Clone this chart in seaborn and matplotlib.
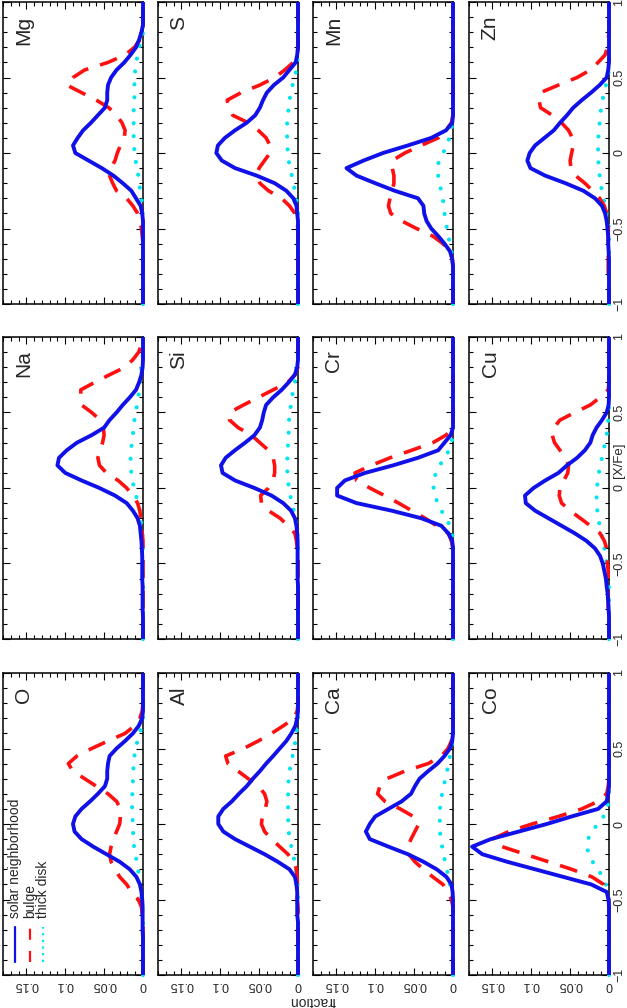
import numpy as np
import seaborn as sns
import matplotlib.pyplot as plt
from matplotlib.ticker import MultipleLocator, FuncFormatter

# [X/Fe] grid, from +1 down to -1
xfe = np.round(np.linspace(1.0, -1.0, 41), 2)

# fraction of stars per [X/Fe] bin: solar neighborhood / bulge / thick disk
o_sn = [0, 0, 0, 0, 0, 0, .001, .0055, .013, .023, .034, .043, .045, .046, .046, .049, .058, .068, .079, .087, .090,
        .088, .079, .064, .047, .030, .017, .0085, .004, .002, .001, .0005, .0005, .0005, .0005, 0, 0, 0, 0, 0, 0]
o_bulge = [0, 0, 0, 0, 0, .001, .004, .011, .023, .045, .066, .085, .096, .090, .075, .060, .045, .034, .029, .029, .030,
           .034, .038, .041, .043, .041, .036, .030, .021, .015, .006, .002, .001, 0, 0, 0, 0, 0, 0, 0, 0]
o_thick = [0, 0, 0, 0, 0, 0, 0, .002, .004, .007, .010, .011, .012, .0125, .013, .013, .0137, .014, .014, .0137, .013,
           .0128, .012, .0115, .0098, .0081, .0064, .005, .0038, .003, .0017, .001, .0005, 0, 0, 0, 0, 0, 0, 0, 0]

na_sn = [0, 0, 0, 0, .0005, .002, .005, .009, .017, .026, .034, .043, .050, .066, .085, .098, .108, .110, .100, .079, .056,
         .036, .021, .013, .007, .004, .003, .002, .0015, .001, .001, .001, .001, .0005, .0005, .0005, .0005, 0, 0, 0, 0]
na_bulge = [0, .002, .0055, .013, .023, .043, .062, .080, .080, .079, .066, .055, .051, .050, .052, .055, .058, .056, .047, .032, .021,
            .013, .007, .004, .003, .002, .001, 0, 0, 0, 0, 0, 0, 0, 0, 0, 0, 0, 0, 0, 0]
na_thick = [0, 0, 0, .001, .002, .003, .004, .005, .006, .008, .009, .011, .012, .013, .0145, .015, .016, .016, .015, .0135, .0115,
            .009, .006, .0045, .003, .002, .001, 0, 0, 0, 0, 0, 0, 0, 0, 0, 0, 0, 0, 0, 0]

mg_sn = [0, 0, 0, 0, .002, .005, .009, .016, .024, .034, .041, .045, .046, .046, .049, .058, .067, .077, .084, .090, .087,
         .070, .053, .038, .026, .015, .009, .003, .001, 0, 0, 0, 0, 0, 0, 0, 0, 0, 0, 0, 0]
mg_bulge = [0, 0, 0, 0, .001, .004, .011, .023, .045, .075, .090, .098, .079, .060, .044, .034, .027, .023, .024, .029, .033,
            .036, .041, .043, .039, .034, .021, .013, .007, .004, .002, .001, 0, 0, 0, 0, 0, 0, 0, 0, 0]
mg_thick = [0, 0, 0, 0, 0, .001, .005, .007, .0085, .010, .011, .011, .011, .011, .012, .012, .012, .012, .012, .0115, .011,
            .0095, .008, .006, .005, .0035, .002, .001, .0005, 0, 0, 0, 0, 0, 0, 0, 0, 0, 0, 0, 0]

al_sn = [0, 0, 0, 0, 0, 0, .001, .0034, .0085, .015, .0235, .032, .041, .049, .058, .066, .076, .085, .096, .1025, .1025,
         .096, .081, .062, .043, .026, .011, .004, .002, .001, .001, .001, .001, 0, 0, 0, 0, 0, 0, 0, 0]
al_bulge = [0, 0, 0, 0, 0, .001, .005, .019, .034, .051, .070, .093, .090, .077, .064, .051, .043, .040, .042, .046, .047,
            .043, .034, .0235, .013, .005, .002, .001, .001, .001, .001, 0, 0, 0, 0, 0, 0, 0, 0, 0, 0]
al_thick = [0, 0, 0, 0, 0, 0, 0, .001, .002, .0034, .005, .007, .0094, .0107, .012, .0124, .0128, .0128, .0128, .0128, .0124,
            .012, .0107, .0085, .0064, .0043, .0026, .0013, .0005, 0, 0, 0, 0, 0, 0, 0, 0, 0, 0, 0, 0]

si_sn = [0, 0, 0, 0, .001, .004, .012, .021, .032, .041, .044, .046, .049, .056, .068, .081, .093, .099, .097, .081, .056,
         .034, .019, .009, .004, .002, .001, .0005, .0005, .0005, .0005, .0005, .0005, 0, 0, 0, 0, 0, 0, 0, 0]
si_bulge = [0, 0, 0, 0, 0, .004, .013, .032, .051, .070, .088, .088, .077, .060, .049, .038, .032, .030, .030, .032, .038,
            .048, .047, .038, .023, .013, .004, .002, .001, 0, 0, 0, 0, 0, 0, 0, 0, 0, 0, 0, 0]
si_thick = [0, 0, 0, 0, .002, .003, .004, .006, .008, .009, .011, .0115, .012, .012, .013, .013, .0137, .0137, .0137, .013, .0115,
            .010, .0077, .0055, .0034, .0017, .001, 0, 0, 0, 0, 0, 0, 0, 0, 0, 0, 0, 0, 0, 0]

s_sn = [0, 0, 0, 0, 0, 0, 0, .001, .003, .011, .019, .031, .040, .045, .049, .055, .066, .081, .094, .103, .105,
        .098, .081, .053, .030, .015, .006, .002, .001, 0, 0, 0, 0, 0, 0, 0, 0, 0, 0, 0, 0]
s_bulge = [0, 0, 0, 0, 0, 0, 0, .001, .006, .017, .030, .049, .073, .091, .089, .084, .064, .051, .041, .036, .036,
           .043, .050, .053, .049, .038, .021, .011, .004, .002, 0, 0, 0, 0, 0, 0, 0, 0, 0, 0, 0]
s_thick = [0, 0, 0, 0, 0, 0, 0, 0, .001, .002, .005, .007, .009, .011, .012, .013, .014, .014, .014, .014, .013,
           .012, .010, .008, .006, .004, .002, .001, 0, 0, 0, 0, 0, 0, 0, 0, 0, 0, 0, 0, 0]

ca_sn = [0, 0, 0, 0, 0, 0, 0, 0, 0, .001, .004, .011, .020, .032, .043, .049, .054, .066, .083, .100, .107,
         .112, .107, .083, .058, .038, .021, .0085, .002, .0005, 0, 0, 0, 0, 0, 0, 0, 0, 0, 0, 0]
ca_bulge = [0, 0, 0, 0, 0, 0, 0, 0, 0, .002, .0064, .015, .032, .062, .085, .094, .097, .0875, .068, .051, .044,
            .049, .054, .058, .057, .049, .038, .026, .013, .0064, .002, 0, 0, 0, 0, 0, 0, 0, 0, 0, 0]
ca_thick = [0, 0, 0, 0, 0, 0, 0, 0, 0, .001, .002, .004, .0055, .0077, .0098, .012, .014, .016, .0167, .017, .017,
            .0167, .016, .014, .0124, .010, .008, .0055, .004, .002, .001, 0, 0, 0, 0, 0, 0, 0, 0, 0, 0]

cr_sn = [0, 0, 0, 0, 0, 0, 0, 0, 0, 0, 0, 0, 0, .003, .011, .019, .045, .077, .113, .139, .149,
         .149, .124, .079, .041, .015, .006, .001, 0, 0, 0, 0, 0, 0, 0, 0, 0, 0, 0, 0, 0]
cr_bulge = [0, 0, 0, 0, 0, 0, 0, 0, 0, 0, 0, 0, 0, .009, .026, .053, .081, .105, .126, .124, .107,
            .088, .070, .053, .036, .021, .006, .002, 0, 0, 0, 0, 0, 0, 0, 0, 0, 0, 0, 0, 0]
cr_thick = [0, 0, 0, 0, 0, 0, 0, 0, 0, 0, 0, 0, 0, 0, .002, .005, .011, .017, .022, .025, .025,
            .023, .020, .015, .0085, .004, .001, 0, 0, 0, 0, 0, 0, 0, 0, 0, 0, 0, 0, 0, 0]

mn_sn = [0, 0, 0, 0, 0, 0, 0, 0, 0, 0, 0, 0, 0, 0, 0, 0, .001, .009, .028, .058, .090,
         .115, .137, .124, .100, .075, .045, .038, .037, .034, .028, .019, .011, .004, .001, 0, 0, 0, 0, 0, 0]
mn_bulge = [0, 0, 0, 0, 0, 0, 0, 0, 0, 0, 0, 0, 0, 0, 0, 0, .002, .009, .019, .041, .062,
            .078, .078, .076, .076, .078, .081, .083, .080, .066, .047, .026, .013, .004, .001, 0, 0, 0, 0, 0, 0]
mn_thick = [0, 0, 0, 0, 0, 0, 0, 0, 0, 0, 0, 0, 0, 0, 0, 0, .001, .002, .005, .007, .013,
            .018, .020, .019, .018, .015, .013, .012, .011, .009, .008, .006, .004, .002, .001, 0, 0, 0, 0, 0, 0]

co_sn = [0, 0, 0, 0, 0, 0, 0, 0, 0, 0, 0, 0, 0, 0, 0, 0, .001, .003, .014, .048, .080,
         .116, .152, .176, .163, .131, .095, .059, .023, .003, .0005, 0, 0, 0, 0, 0, 0, 0, 0, 0, 0]
co_bulge = [0, 0, 0, 0, 0, 0, 0, 0, 0, 0, 0, 0, 0, 0, 0, .001, .003, .014, .035, .065, .099,
            .129, .150, .1375, .108, .078, .048, .022, .007, .002, .0005, 0, 0, 0, 0, 0, 0, 0, 0, 0, 0]
co_thick = [0, 0, 0, 0, 0, 0, 0, 0, 0, 0, 0, 0, 0, 0, 0, 0, 0, .001, .002, .007, .0145,
            .022, .027, .0286, .026, .021, .0145, .008, .004, .002, .001, 0, 0, 0, 0, 0, 0, 0, 0, 0, 0]

cu_sn = [0, 0, 0, 0, 0, 0, 0, 0, 0, .0005, .003, .009, .016, .021, .024, .031, .041, .054, .065, .082, .097,
         .108, .107, .095, .078, .061, .044, .029, .018, .0115, .008, .006, .004, .003, .0017, .001, .0005, 0, 0, 0, 0]
cu_bulge = [0, 0, 0, 0, 0, 0, 0, .001, .0115, .024, .044, .063, .071, .073, .070, .063, .056, .052, .053, .058, .063,
            .064, .061, .050, .037, .024, .0115, .006, .003, .002, .002, .001, .001, .001, .001, .001, .001, 0, 0, 0, 0]
cu_thick = [0, 0, 0, 0, 0, 0, 0, 0, 0, 0, 0, .001, .002, .003, .005, .007, .009, .0115, .013, .0145, .0154,
            .016, .016, .015, .0137, .012, .010, .008, .006, .004, .003, .002, .001, 0, 0, 0, 0, 0, 0, 0, 0]

zn_sn = [0, 0, 0, 0, 0, 0, 0, 0, 0, .001, .003, .012, .023, .035, .046, .054, .063, .071, .083, .095, .102,
         .105, .101, .082, .056, .033, .018, .009, .005, .003, .002, .001, .001, .0005, 0, 0, 0, 0, 0, 0, 0]
zn_bulge = [0, 0, 0, 0, 0, .001, .002, .005, .014, .024, .041, .065, .088, .090, .088, .073, .061, .052, .047, .046, .048,
            .050, .049, .043, .031, .021, .012, .006, .003, .0015, .001, .001, .001, .001, .001, .001, .001, 0, 0, 0, 0]
zn_thick = [0, 0, 0, 0, 0, 0, 0, 0, 0, 0, .002, .004, .006, .0085, .010, .0115, .012, .013, .0137, .014, .014,
            .0137, .013, .012, .011, .009, .007, .005, .003, .001, 0, 0, 0, 0, 0, 0, 0, 0, 0, 0, 0]

data = {
    "O": (o_sn, o_bulge, o_thick), "Na": (na_sn, na_bulge, na_thick), "Mg": (mg_sn, mg_bulge, mg_thick),
    "Al": (al_sn, al_bulge, al_thick), "Si": (si_sn, si_bulge, si_thick), "S": (s_sn, s_bulge, s_thick),
    "Ca": (ca_sn, ca_bulge, ca_thick), "Cr": (cr_sn, cr_bulge, cr_thick), "Mn": (mn_sn, mn_bulge, mn_thick),
    "Co": (co_sn, co_bulge, co_thick), "Cu": (cu_sn, cu_bulge, cu_thick), "Zn": (zn_sn, zn_bulge, zn_thick),
}
for k, v in data.items():
    for arr in v:
        assert len(arr) == len(xfe), k

# panel layout as it appears on the (rotated) page
layout = [["Mg", "S", "Mn", "Zn"],
          ["Na", "Si", "Cr", "Cu"],
          ["O", "Al", "Ca", "Co"]]

legend_labels = ["solar neighborhood", "bulge", "thick disk"]

BLUE, RED, CYAN = "#1010e8", "#ff1010", "#00e5f0"

sns.set_style("white")
plt.rcParams["font.family"] = ["Liberation Sans", "DejaVu Sans"]
plt.rcParams["axes.edgecolor"] = "black"
plt.rcParams["axes.linewidth"] = 1.1

W, H = 627, 1008
fig = plt.figure(figsize=(W / 100, H / 100), dpi=100)

col_left = [3, 158, 313, 469]
row_top = [2, 337, 673]
pw, ph = 140, 302

yfmt = FuncFormatter(lambda v, p: f"{v:g}".replace("-", "\u2212"))
xfmt = FuncFormatter(lambda v, p: "0" if abs(v) < 1e-9 else f"{v:.2f}".rstrip("0"))

for r, row in enumerate(layout):
    for c, name in enumerate(row):
        ax = fig.add_axes([col_left[c] / W, 1 - (row_top[r] + ph) / H, pw / W, ph / H])
        sn, bu, th = data[name]
        sns.lineplot(x=th, y=xfe, orient="y", estimator=None, color=CYAN, lw=3.0,
                     linestyle=(0, (0.01, 3.1)), dash_capstyle="round", clip_on=False, zorder=3, ax=ax)
        sns.lineplot(x=bu, y=xfe, orient="y", estimator=None, color=RED, lw=2.6,
                     linestyle=(0, (5.0, 3.4)), dash_capstyle="butt", clip_on=False, zorder=4, ax=ax)
        sns.lineplot(x=sn, y=xfe, orient="y", estimator=None, color=BLUE, lw=2.8,
                     solid_capstyle="butt", clip_on=False, zorder=5, ax=ax)

        ax.set_xlim(0.18, 0)
        ax.set_ylim(-1, 1)
        ax.set_xlabel("")
        ax.set_ylabel("")
        ax.xaxis.set_major_locator(MultipleLocator(0.05))
        ax.xaxis.set_minor_locator(MultipleLocator(0.01))
        ax.yaxis.set_major_locator(MultipleLocator(0.5))
        ax.yaxis.set_minor_locator(MultipleLocator(0.1))
        ax.xaxis.set_major_formatter(xfmt)
        ax.yaxis.set_major_formatter(yfmt)
        ax.tick_params(which="both", direction="in", top=True, bottom=True, left=True, right=True,
                       width=0.8, color="black")
        ax.tick_params(which="major", length=5)
        ax.tick_params(which="minor", length=3)
        ax.tick_params(labelbottom=(r == 2), labeltop=False, labelleft=False, labelright=(c == 3))
        ax.tick_params(axis="x", labelrotation=180, labelsize=9, pad=3)
        ax.tick_params(axis="y", labelrotation=90, labelsize=9, pad=3)
        plt.setp(ax.get_yticklabels(), va="center")

        ax.text(0.15, 0.955, name, transform=ax.transAxes, rotation=90,
                ha="center", va="top", fontsize=15)

        if name == "O":
            lx = [0.086, 0.193, 0.286]
            styles = [dict(color=BLUE, lw=1.6),
                      dict(color=RED, lw=1.6, linestyle=(0, (5, 5))),
                      dict(color=CYAN, lw=1.6, linestyle=(0, (1, 2)))]
            for x0, lab, st in zip(lx, legend_labels, styles):
                ax.plot([x0, x0], [0.043, 0.159], transform=ax.transAxes, **st)
                ax.text(x0, 0.189, lab, transform=ax.transAxes, rotation=90,
                        ha="center", va="bottom", fontsize=10)

fig.text(313 / W, 1 - 1001 / H, "fraction", rotation=180, ha="center", va="center", fontsize=10)
fig.text(619 / W, 1 - 460 / H, "[X/Fe]", rotation=90, ha="center", va="center", fontsize=9.5)

fig.savefig("out.png", dpi=100)
